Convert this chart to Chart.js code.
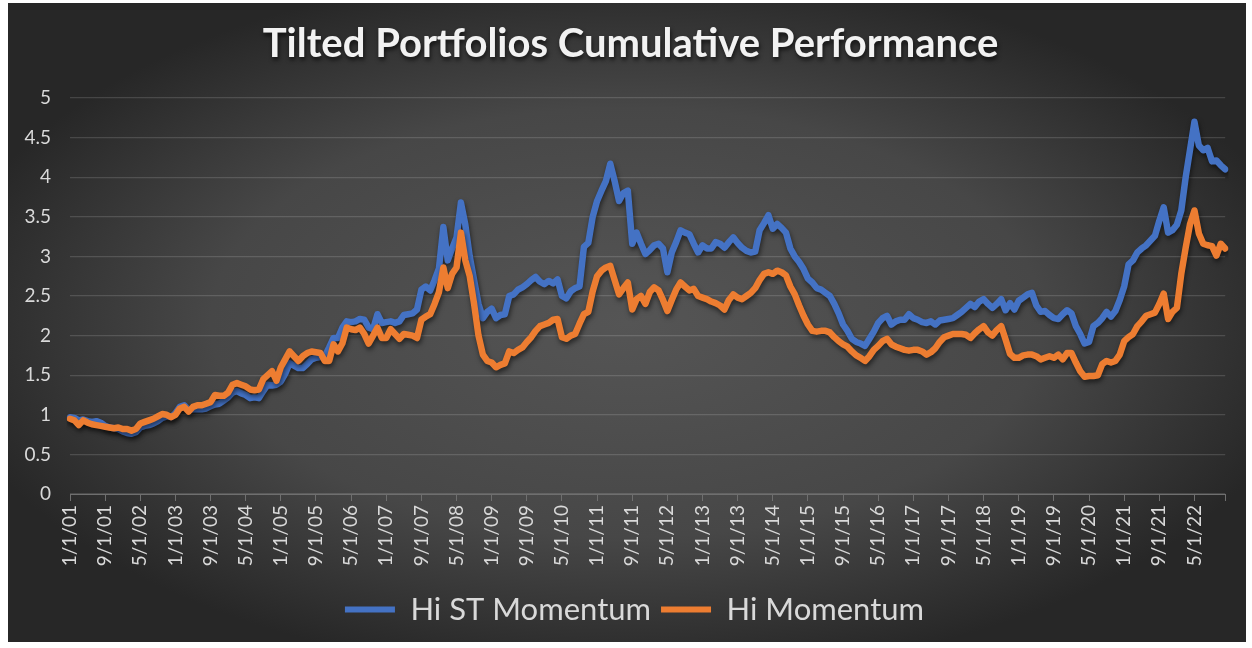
<!DOCTYPE html>
<html>
<head>
<meta charset="utf-8">
<script src="https://cdn.jsdelivr.net/npm/chart.js@4.4.1/dist/chart.umd.min.js"></script>
<style>
  html, body { margin: 0; padding: 0; background: #ffffff; overflow: hidden; }
  #wrap { width: 1252px; height: 648px; }
</style>
</head>
<body>
<div id="wrap"><canvas id="c" width="1252" height="648"></canvas></div>
<script>
// ---- Data (monthly, 1/1/01 .. 12/1/22), one row per year ----
const startYear = 2001;
const endYear = 2022;

const hiSTMomentum = [
  0.97, 0.96, 0.93, 0.94, 0.92, 0.91, 0.92, 0.90, 0.86, 0.84, 0.83, 0.82, // 2001
  0.79, 0.77, 0.76, 0.78, 0.84, 0.86, 0.87, 0.89, 0.92, 0.96, 0.98, 0.97, // 2002
  1.02, 1.10, 1.12, 1.06, 1.07, 1.07, 1.07, 1.08, 1.11, 1.13, 1.14, 1.18, // 2003
  1.22, 1.28, 1.30, 1.27, 1.25, 1.21, 1.22, 1.21, 1.30, 1.38, 1.37, 1.38, // 2004
  1.42, 1.52, 1.65, 1.62, 1.59, 1.59, 1.64, 1.70, 1.72, 1.73, 1.74, 1.85, // 2005
  1.97, 1.97, 2.10, 2.18, 2.17, 2.18, 2.21, 2.20, 2.10, 2.08, 2.27, 2.16, // 2006
  2.17, 2.18, 2.16, 2.18, 2.26, 2.27, 2.28, 2.33, 2.58, 2.62, 2.57, 2.70, // 2007
  2.85, 3.37, 2.95, 3.10, 3.24, 3.68, 3.40, 3.00, 2.70, 2.40, 2.22, 2.30, // 2008
  2.34, 2.22, 2.26, 2.27, 2.50, 2.52, 2.58, 2.61, 2.65, 2.70, 2.74, 2.68, // 2009
  2.65, 2.69, 2.66, 2.71, 2.50, 2.47, 2.56, 2.60, 2.62, 3.12, 3.17, 3.50, // 2010
  3.70, 3.83, 3.95, 4.17, 3.95, 3.70, 3.80, 3.83, 3.16, 3.30, 3.16, 3.03, // 2011
  3.08, 3.14, 3.16, 3.10, 2.80, 3.05, 3.18, 3.33, 3.30, 3.28, 3.16, 3.05, // 2012
  3.14, 3.10, 3.10, 3.18, 3.16, 3.11, 3.18, 3.24, 3.17, 3.11, 3.07, 3.05, // 2013
  3.06, 3.33, 3.42, 3.52, 3.35, 3.41, 3.36, 3.30, 3.10, 3.00, 2.93, 2.84, // 2014
  2.72, 2.67, 2.60, 2.58, 2.54, 2.50, 2.40, 2.28, 2.14, 2.06, 1.96, 1.92, // 2015
  1.90, 1.87, 1.96, 2.05, 2.16, 2.22, 2.25, 2.14, 2.18, 2.20, 2.20, 2.27, // 2016
  2.22, 2.20, 2.17, 2.16, 2.18, 2.14, 2.19, 2.20, 2.21, 2.22, 2.26, 2.30, // 2017
  2.35, 2.40, 2.36, 2.43, 2.46, 2.40, 2.35, 2.40, 2.46, 2.32, 2.41, 2.33, // 2018
  2.44, 2.48, 2.52, 2.54, 2.38, 2.30, 2.31, 2.26, 2.22, 2.21, 2.27, 2.32, // 2019
  2.28, 2.12, 2.02, 1.90, 1.92, 2.12, 2.16, 2.22, 2.30, 2.24, 2.31, 2.45, // 2020
  2.62, 2.90, 2.95, 3.05, 3.10, 3.14, 3.20, 3.26, 3.45, 3.62, 3.30, 3.33, // 2021
  3.40, 3.58, 4.00, 4.35, 4.70, 4.40, 4.34, 4.37, 4.20, 4.21, 4.15, 4.10  // 2022
];

const hiMomentum = [
  0.95, 0.93, 0.87, 0.93, 0.90, 0.88, 0.87, 0.86, 0.85, 0.84, 0.83, 0.84, // 2001
  0.82, 0.82, 0.80, 0.82, 0.89, 0.91, 0.93, 0.95, 0.98, 1.01, 1.00, 0.97, // 2002
  1.00, 1.08, 1.10, 1.04, 1.10, 1.12, 1.12, 1.14, 1.16, 1.25, 1.24, 1.24, // 2003
  1.28, 1.38, 1.40, 1.38, 1.36, 1.32, 1.31, 1.32, 1.45, 1.50, 1.55, 1.43, // 2004
  1.60, 1.70, 1.80, 1.74, 1.68, 1.74, 1.78, 1.80, 1.79, 1.78, 1.68, 1.68, // 2005
  1.89, 1.80, 1.90, 2.10, 2.08, 2.07, 2.10, 2.02, 1.90, 2.00, 2.10, 1.97, // 2006
  1.97, 2.08, 2.02, 1.96, 2.02, 2.01, 2.00, 1.97, 2.20, 2.24, 2.27, 2.40, // 2007
  2.55, 2.86, 2.60, 2.78, 2.86, 3.30, 2.95, 2.75, 2.40, 2.00, 1.76, 1.68, // 2008
  1.66, 1.60, 1.63, 1.65, 1.80, 1.78, 1.82, 1.85, 1.92, 1.98, 2.06, 2.12, // 2009
  2.14, 2.16, 2.20, 2.21, 1.98, 1.96, 2.00, 2.02, 2.15, 2.27, 2.30, 2.56, // 2010
  2.75, 2.82, 2.86, 2.88, 2.70, 2.52, 2.60, 2.67, 2.33, 2.46, 2.50, 2.40, // 2011
  2.55, 2.61, 2.57, 2.45, 2.31, 2.45, 2.58, 2.67, 2.62, 2.57, 2.59, 2.50, // 2012
  2.48, 2.46, 2.43, 2.41, 2.38, 2.33, 2.45, 2.52, 2.48, 2.46, 2.50, 2.54, // 2013
  2.60, 2.70, 2.78, 2.80, 2.78, 2.82, 2.80, 2.76, 2.62, 2.52, 2.38, 2.25, // 2014
  2.14, 2.06, 2.05, 2.06, 2.06, 2.04, 1.98, 1.93, 1.89, 1.86, 1.80, 1.75, // 2015
  1.72, 1.68, 1.74, 1.82, 1.87, 1.93, 1.96, 1.89, 1.86, 1.84, 1.82, 1.81, // 2016
  1.82, 1.82, 1.80, 1.76, 1.79, 1.84, 1.92, 1.98, 2.00, 2.02, 2.02, 2.02, // 2017
  2.01, 1.97, 2.03, 2.08, 2.12, 2.04, 2.00, 2.07, 2.12, 1.95, 1.77, 1.72, // 2018
  1.72, 1.75, 1.76, 1.76, 1.74, 1.70, 1.72, 1.74, 1.72, 1.76, 1.70, 1.78, // 2019
  1.78, 1.66, 1.55, 1.48, 1.49, 1.49, 1.50, 1.64, 1.68, 1.66, 1.68, 1.76, // 2020
  1.93, 1.98, 2.02, 2.12, 2.18, 2.25, 2.27, 2.29, 2.40, 2.53, 2.21, 2.30, // 2021
  2.35, 2.78, 3.11, 3.41, 3.58, 3.29, 3.16, 3.14, 3.13, 3.01, 3.16, 3.10  // 2022
];

const seriesNames = ['Hi ST Momentum', 'Hi Momentum'];
const titleText = 'Tilted Portfolios Cumulative Performance';
const labelEvery = 8;   // a date label every 8 months

// category labels: M/1/YY
const categories = [];
for (let y = startYear; y <= endYear; y++) {
  for (let m = 1; m <= 12; m++) {
    categories.push(m + '/1/' + String(y % 100).padStart(2, '0'));
  }
}

const FONT = 'Lato, "Open Sans", sans-serif';
const TXT = '#d9d9d9';

const bgPlugin = {
  id: 'bg',
  beforeDraw(chart) {
    const ctx = chart.ctx;
    ctx.save();
    ctx.fillStyle = '#ffffff';
    ctx.fillRect(0, 0, chart.width, chart.height);
    const x0 = 8, y0 = 3, x1 = 1246, y1 = 642;
    const cx = (x0 + x1) / 2, cy = (y0 + y1) / 2;
    const rx = (x1 - x0) / 2, ry = (y1 - y0) / 2;
    ctx.beginPath();
    ctx.rect(x0, y0, x1 - x0, y1 - y0);
    ctx.clip();
    ctx.translate(cx, cy);
    ctx.scale(1, ry / rx);
    const g = ctx.createRadialGradient(0, 0, 0, 0, 0, rx * 1.12);
    g.addColorStop(0, '#555555');
    g.addColorStop(0.6, '#474747');
    g.addColorStop(1, '#272727');
    ctx.fillStyle = g;
    ctx.fillRect(-rx, -rx, 2 * rx, 2 * rx);
    ctx.restore();
  }
};

// center title and legend like the original (slightly right of the plot-area centre),
// and give the title a soft drop shadow
const shiftPlugin = {
  id: 'shiftBoxes',
  afterLayout(chart) {
    if (chart.legend) { chart.legend.left += 16; chart.legend.right += 16; }
    const tb = chart.titleBlock;
    if (tb) {
      tb.left += 12; tb.right += 12;
      if (!tb._shadowWrapped) {
        const orig = tb.draw.bind(tb);
        tb.draw = function (area) {
          const c = this.ctx;
          c.save();
          c.shadowColor = 'rgba(0,0,0,0.65)';
          c.shadowBlur = 4;
          c.shadowOffsetX = 1;
          c.shadowOffsetY = 3;
          orig(area);
          c.restore();
        };
        tb._shadowWrapped = true;
      }
    }
  }
};

const shadowPlugin = {
  id: 'lineShadow',
  beforeDatasetDraw(chart) {
    const ctx = chart.ctx;
    ctx.save();
    ctx.shadowColor = 'rgba(0,0,0,0.55)';
    ctx.shadowBlur = 5;
    ctx.shadowOffsetX = 1;
    ctx.shadowOffsetY = 3;
  },
  afterDatasetDraw(chart) {
    chart.ctx.restore();
  }
};

const ctx = document.getElementById('c').getContext('2d');
new Chart(ctx, {
  type: 'line',
  data: {
    labels: categories,
    datasets: [
      {
        label: seriesNames[0],
        data: hiSTMomentum,
        borderColor: '#4472C4',
        backgroundColor: '#4472C4',
        borderWidth: 6.5,
        pointRadius: 0,
        tension: 0,
        borderJoinStyle: 'round',
        borderCapStyle: 'round',
        order: 1
      },
      {
        label: seriesNames[1],
        data: hiMomentum,
        borderColor: '#ED7D31',
        backgroundColor: '#ED7D31',
        borderWidth: 6.5,
        pointRadius: 0,
        tension: 0,
        borderJoinStyle: 'round',
        borderCapStyle: 'round',
        order: 0
      }
    ]
  },
  options: {
    responsive: false,
    animation: false,
    layout: { padding: { left: 8, right: 23, top: 0, bottom: 13 } },
    plugins: {
      title: {
        display: true,
        text: titleText,
        color: '#f2f2f2',
        font: { family: FONT, size: 40, weight: 'bold' },
        padding: { top: 20, bottom: 30 }
      },
      legend: {
        position: 'bottom',
        labels: {
          color: TXT,
          font: { family: FONT, size: 31 },
          boxWidth: 50,
          boxHeight: 6,
          padding: 10,
          sort: (a, b) => a.datasetIndex - b.datasetIndex,
          generateLabels(chart) {
            return chart.data.datasets.map((ds, i) => ({
              text: ds.label,
              fillStyle: ds.borderColor,
              strokeStyle: ds.borderColor,
              lineWidth: 0,
              fontColor: TXT,
              hidden: false,
              datasetIndex: i
            }));
          }
        }
      },
      tooltip: { enabled: false }
    },
    scales: {
      x: {
        type: 'category',
        offset: false,
        afterFit(s) { s.height = 90; },
        grid: {
          drawOnChartArea: false,
          drawTicks: true,
          tickLength: 7,
          color: '#6f6f6f'
        },
        border: { display: true, color: '#6f6f6f', width: 1 },
        ticks: {
          autoSkip: false,
          minRotation: 90,
          maxRotation: 90,
          color: TXT,
          padding: 4,
          font: { family: FONT, size: 19 },
          callback(v, i) {
            if (i % labelEvery === 0) return categories[i];
            if (i === categories.length - 1) return '';
            return null;
          }
        }
      },
      y: {
        min: 0,
        max: 5,
        afterFit(s) { s.width = 62; },
        grid: {
          color: 'rgba(255,255,255,0.14)',
          lineWidth: 1.2,
          drawTicks: false
        },
        border: { display: false },
        ticks: {
          stepSize: 0.5,
          color: TXT,
          padding: 19,
          font: { family: FONT, size: 19 },
          callback(v) { return String(Math.round(v * 10) / 10); }
        }
      }
    }
  },
  plugins: [bgPlugin, shiftPlugin, shadowPlugin]
});
</script>
</body>
</html>
